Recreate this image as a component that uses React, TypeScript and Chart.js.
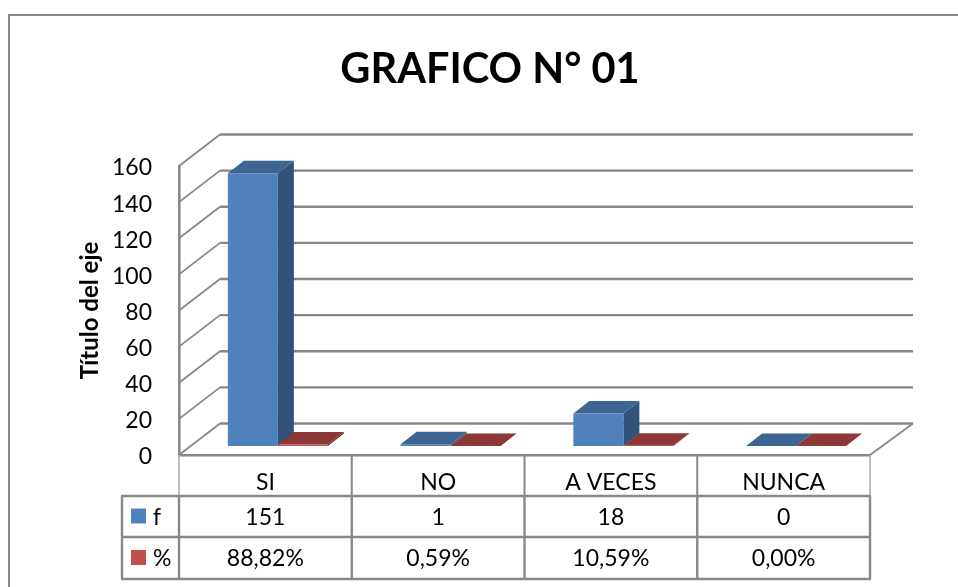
import React, { useEffect, useRef } from "react";
import { Chart, registerables } from "chart.js";

Chart.register(...registerables);

const categories = ["SI", "NO", "A VECES", "NUNCA"];
const seriesF = [151, 1, 18, 0];
const seriesPct = [0.8882, 0.0059, 0.1059, 0];
const labelsF = ["151", "1", "18", "0"];
const labelsPct = ["88,82%", "0,59%", "10,59%", "0,00%"];
const yTicks = [0, 20, 40, 60, 80, 100, 120, 140, 160];

const FONT = "Lato";
const GRID = "#888888";
const FRONT = ["#4f81bd", "#c0504d"];
const TOP = ["#3d6592", "#8c3836"];
const SIDE = ["#31527a", "#6f2c2a"];
const WALL = { dx: 41, dy: -31.5 };
const BAR_SHIFT = { dx: 12.5, dy: -9 };
const BAR_DEPTH = { dx: 16, dy: -12.5 };

const line = (c: CanvasRenderingContext2D, x1: number, y1: number, x2: number, y2: number, w: number, col: string) => {
  c.beginPath();
  c.strokeStyle = col;
  c.lineWidth = w;
  c.moveTo(x1, y1);
  c.lineTo(x2, y2);
  c.stroke();
};
const poly = (c: CanvasRenderingContext2D, pts: number[][], col: string) => {
  c.beginPath();
  c.fillStyle = col;
  pts.forEach((p, i) => (i ? c.lineTo(p[0], p[1]) : c.moveTo(p[0], p[1])));
  c.closePath();
  c.fill();
};

const scene = {
  id: "scene",
  afterLayout(chart: any) {
    chart.titleBlock.left += 55;
    chart.titleBlock.right += 55;
  },
  beforeDraw(chart: any) {
    const c = chart.ctx as CanvasRenderingContext2D;
    c.save();
    c.fillStyle = "#fff";
    c.fillRect(0, 0, chart.width, chart.height);
    c.strokeStyle = GRID;
    c.lineWidth = 2;
    c.strokeRect(9, 15, chart.width + 20, chart.height + 20);
    c.restore();
  },
  beforeDatasetsDraw(chart: any) {
    const c = chart.ctx as CanvasRenderingContext2D;
    const { x, y } = chart.scales;
    c.save();
    yTicks.forEach((t) => {
      const py = y.getPixelForValue(t);
      line(c, x.left, py, x.left + WALL.dx, py + WALL.dy, 1.8, GRID);
      line(c, x.left + WALL.dx, py + WALL.dy, x.right + WALL.dx + 2, py + WALL.dy, 2.4, GRID);
    });
    const by = y.getPixelForValue(0);
    line(c, x.right, by, x.right + WALL.dx + 2, by + WALL.dy, 1.8, GRID);
    c.restore();

    c.save();
    c.translate(BAR_SHIFT.dx, BAR_SHIFT.dy);
    [0, 1].forEach((d) => {
      chart.getDatasetMeta(d).data.forEach((el: any) => {
        const p = el.getProps(["x", "y", "base", "width"], true);
        const l = p.x - p.width / 2;
        const r = p.x + p.width / 2;
        const { dx, dy } = BAR_DEPTH;
        poly(c, [[r, p.y], [r + dx, p.y + dy], [r + dx, p.base + dy], [r, p.base]], SIDE[d]);
        poly(c, [[l, p.y], [l + dx, p.y + dy], [r + dx, p.y + dy], [r, p.y]], TOP[d]);
      });
    });
  },
  afterDatasetsDraw(chart: any) {
    chart.ctx.restore();
  },
  afterDraw(chart: any) {
    const c = chart.ctx as CanvasRenderingContext2D;
    const { x } = chart.scales;
    const half = (x.right - x.left) / categories.length / 2;
    const rows = [455, 496, 537, 579];
    const legendLeft = 122;
    c.save();
    categories.forEach((_, i) => {
      const px = x.getPixelForValue(i) + half;
      line(c, px, rows[0], px, rows[1], i === categories.length - 1 ? 1.5 : 2, i === categories.length - 1 ? "#aaaaaa" : GRID);
      line(c, px, rows[1], px, rows[3], 2.4, GRID);
    });
    line(c, x.left, rows[0], x.left, rows[1], 1.5, "#aaaaaa");
    line(c, x.left, rows[1], x.left, rows[3], 2.4, GRID);
    line(c, legendLeft, rows[1], legendLeft, rows[3], 2.4, GRID);
    [1, 2, 3].forEach((r) => line(c, legendLeft - 1, rows[r], x.right + 1, rows[r], 2.4, GRID));

    c.font = `23px ${FONT}`;
    c.textBaseline = "middle";
    [[labelsF, "f"], [labelsPct, "%"]].forEach(([vals, name]: any, r) => {
      const cy = (rows[r + 1] + rows[r + 2]) / 2;
      c.fillStyle = FRONT[r];
      c.fillRect(131, cy - 8, 15, 15);
      c.fillStyle = "#000";
      c.textAlign = "left";
      c.fillText(name, 153, cy + 1);
      c.textAlign = "center";
      vals.forEach((v: string, i: number) => c.fillText(v, x.getPixelForValue(i), cy + 1));
    });
    c.restore();
  },
};

export default function App() {
  const ref = useRef<HTMLCanvasElement>(null);
  useEffect(() => {
    const chart = new Chart(ref.current!, {
      type: "bar",
      data: {
        labels: categories,
        datasets: [
          { label: "f", data: seriesF, backgroundColor: FRONT[0], clip: false },
          { label: "%", data: seriesPct, backgroundColor: FRONT[1], clip: false },
        ] as any,
      },
      options: {
        responsive: false,
        animation: false,
        font: { family: FONT },
        categoryPercentage: 0.579,
        barPercentage: 1,
        layout: { padding: { left: 0, right: 88, top: 0, bottom: 0 } },
        plugins: {
          legend: { display: false },
          tooltip: { enabled: false },
          title: {
            display: true,
            text: "GRAFICO N° 01",
            color: "#000",
            font: { family: FONT, size: 41.5, weight: "bold", lineHeight: 1.2 },
            padding: { top: 45, bottom: 71.2 },
          },
        },
        scales: {
          x: {
            afterFit: (s: any) => { s.height = 132; },
            grid: { display: false },
            border: { display: true, color: GRID, width: 2.4 },
            ticks: { color: "#000", font: { family: FONT, size: 23 }, padding: 6, autoSkip: false, maxRotation: 0 },
          },
          y: {
            min: 0,
            max: 160,
            afterFit: (s: any) => { s.width = 179; },
            grid: { display: false },
            border: { display: true, color: GRID, width: 2.6 },
            ticks: { color: "#000", font: { family: FONT, size: 23 }, padding: 19, stepSize: 20, autoSkip: false, labelOffset: 2 },
            title: {
              display: true,
              text: "Título del eje",
              color: "#000",
              font: { family: FONT, size: 24, weight: "bold" },
              padding: { top: 76, bottom: 0 },
            },
          },
        },
      } as any,
      plugins: [scene as any],
    });
    return () => chart.destroy();
  }, []);
  return (
    <div style={{ position: "absolute", left: 0, top: 0, width: 958, height: 587, overflow: "hidden" }}>
      <canvas ref={ref} width={958} height={587} style={{ display: "block" }} />
    </div>
  );
}
